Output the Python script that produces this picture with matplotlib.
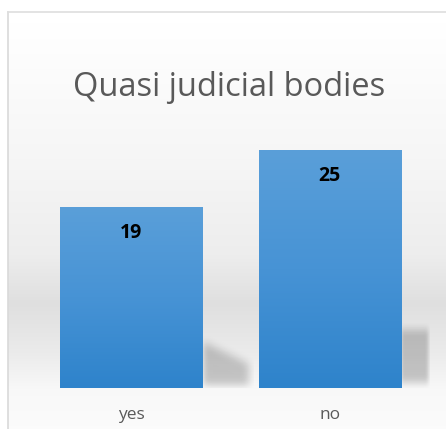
import numpy as np
import matplotlib
matplotlib.use("Agg")
import matplotlib.pyplot as plt
from matplotlib.colors import LinearSegmentedColormap

categories = ["yes", "no"]
values = [19, 25]
title = "Quasi judicial bodies"

W, H = 446, 429
fig = plt.figure(figsize=(W / 100, H / 100), dpi=100)
fig.patch.set_facecolor("white")

# background panel with soft grey band
bg = fig.add_axes([0, 0, 1, 1])
bg.set_xlim(0, W)
bg.set_ylim(H, 0)
bg.axis("off")
ys = np.linspace(0, H, H)
stops_y = [12, 150, 250, 300, 350, 390, 429]
stops_c = [1.00, 0.965, 0.93, 0.875, 0.92, 0.975, 0.985]
col = np.interp(ys, stops_y, stops_c)
grad = np.repeat(col[:, None], 10, axis=1)
bg.imshow(np.dstack([grad, grad, grad]), extent=[8, W, H, 12], aspect="auto", zorder=0)
bg.plot([8, 8], [12, H], color="#d9d9d9", lw=1.2, zorder=1)
bg.plot([8, W], [12, 12], color="#dedede", lw=1.2, zorder=1)

bg.text(229, 87, title, ha="center", va="center", fontsize=23.5,
        color="#595959", family="Open Sans")

# plot area
ax = fig.add_axes([32 / W, (H - 388) / H, 397 / W, 285.6 / H])
ax.set_xlim(-0.5, 1.5)
ax.set_ylim(0, 30)
ax.patch.set_alpha(0)
for s in ax.spines.values():
    s.set_visible(False)
ax.set_yticks([])
ax.set_xticks(range(len(categories)))
ax.set_xticklabels(categories, fontsize=12.5, color="#595959", family="Open Sans")
ax.tick_params(axis="x", length=0, pad=14)

bar_w = 0.717
x = np.arange(len(categories))


def blurred(nx, ny, shape, sigma):
    # soft mask from a boolean shape function, box-blurred
    gx, gy = np.meshgrid(np.linspace(0, 1, nx), np.linspace(0, 1, ny))
    m = shape(gx, gy).astype(float)
    k = np.ones(sigma) / sigma
    for _ in range(3):
        m = np.apply_along_axis(lambda r: np.convolve(r, k, mode="same"), 1, m)
        m = np.apply_along_axis(lambda r: np.convolve(r, k, mode="same"), 0, m)
    return m


# shadows to the right of each bar
for i, v in enumerate(values):
    x0 = x[i] + bar_w / 2
    if i == 0:
        sw, sh = 0.26, v * 0.3
        m = blurred(60, 60, lambda gx, gy: (gy > 0.15 + 0.45 * gx) & (gy < 0.95) & (gx < 0.9), 9)
    else:
        sw, sh = 0.145, v * 0.27
        m = blurred(60, 60, lambda gx, gy: (gy > 0.1) & (gy < 0.93) & (gx < 0.93), 7)
    rgba = np.zeros((60, 60, 4))
    rgba[..., 3] = m * 0.2
    ax.imshow(rgba, extent=[x0, x0 + sw, 0, sh], aspect="auto", zorder=1, origin="upper")

bars = ax.bar(x, values, width=bar_w, color="none", edgecolor="none", zorder=2)

cmap = LinearSegmentedColormap.from_list("b", ["#2e83cb", "#4793d5", "#5a9fd9"])
g = np.linspace(0, 1, 256)[:, None]
for b, v in zip(bars, values):
    im = ax.imshow(g, cmap=cmap, origin="lower", aspect="auto", zorder=2,
                   extent=[b.get_x(), b.get_x() + b.get_width(), 0, v])
    im.set_clip_path(b)
    ax.text(b.get_x() + b.get_width() / 2, v - 2.7, str(v), ha="center", va="center",
            fontsize=14, fontweight="bold", color="black", family="Open Sans")

ax.set_xlim(-0.5, 1.5)
ax.set_ylim(0, 30)

fig.savefig("out.png", dpi=100)
